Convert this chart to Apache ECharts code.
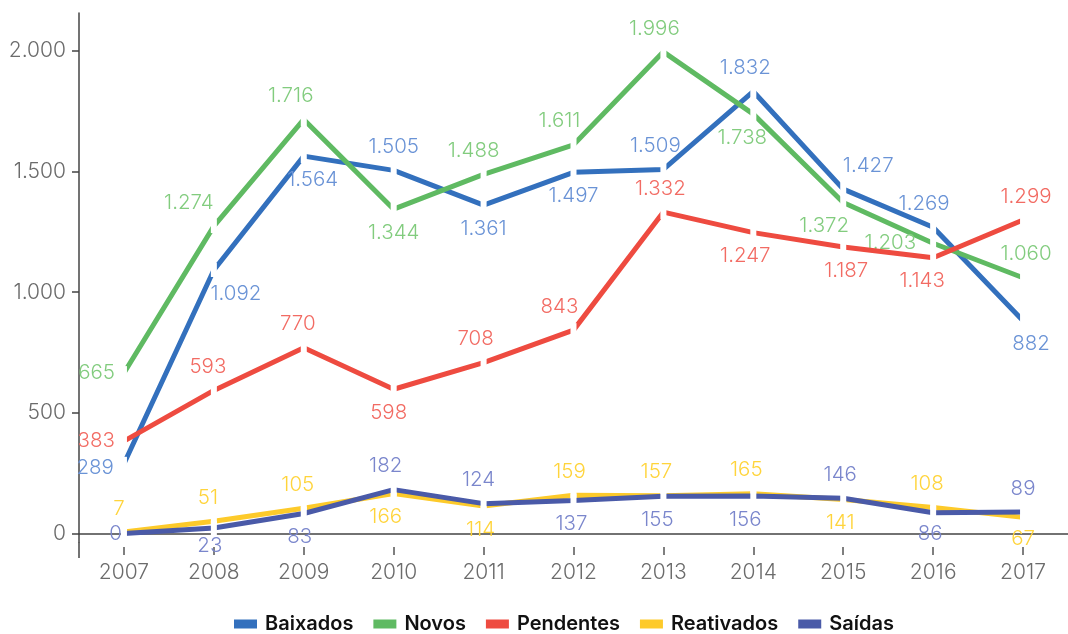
<!DOCTYPE html>
<html>
<head>
<meta charset="utf-8">
<script src="https://cdn.jsdelivr.net/npm/echarts@6/dist/echarts.min.js"></script>
<style>
html,body{margin:0;padding:0;background:#fff;}
#chart{width:1068px;height:634px;}
</style>
</head>
<body>
<div id="chart"></div>
<script>
// ---- data ----
const categories = ['2007','2008','2009','2010','2011','2012','2013','2014','2015','2016','2017'];
const seriesNames = ['Baixados','Novos','Pendentes','Reativados','Saídas'];
const baixados   = [289, 1092, 1564, 1505, 1361, 1497, 1509, 1832, 1427, 1269, 882];
const novos      = [665, 1274, 1716, 1344, 1488, 1611, 1996, 1738, 1372, 1203, 1060];
const pendentes  = [383, 593, 770, 598, 708, 843, 1332, 1247, 1187, 1143, 1299];
const reativados = [7, 51, 105, 166, 114, 159, 157, 165, 141, 108, 67];
const saidas     = [0, 23, 83, 182, 124, 137, 155, 156, 146, 86, 89];
const yTicks = [0, 500, 1000, 1500, 2000];

// ---- styles ----
const lineColors  = ['#3370bd', '#5fba62', '#ee4b40', '#fdca2a', '#4a5aa8'];
const labelColors = ['#6a93d6', '#82cc7e', '#f26b63', '#ffd43b', '#7a86cc'];
// label placement per point: [position, dx, dy]
const labelPlaces = [
  [['l',-1,4],['b',22,0],['b',9,0],['t',0,0],['b',0,0],['b',0,0],['t',-8,0],['t',-8,0],['t',25,0],['t',-9,0],['b',8,0]],
  [['l',0,0],['t',-25,0],['t',-13,0],['b',0,0],['t',-10,0],['t',-14,0],['t',-9,0],['b',-11,0],['b',-19,0],['l',-8,0],['t',3,0]],
  [['l',0,0],['t',-6,0],['t',-6,0],['b',-5,0],['t',-8,0],['t',-14,0],['t',-3,0],['b',-8,0],['b',3,0],['b',-11,0],['t',3,0]],
  [['t',-5,0],['t',-6,0],['t',-6,0],['b',-8,0],['b',-3,0],['t',-4,0],['t',-7,0],['t',-7,0],['b',-3,0],['t',-6,0],['b',0,-2]],
  [['l',7,0],['b',-4,-6],['b',-4,0],['t',-8,0],['t',-5,0],['b',-2,0],['b',-6,0],['b',-8,0],['t',-3,0],['b',-3,-2],['t',0,0]]
];
const posMap = {t:'top', b:'bottom', l:'left', r:'right'};
const FONT = 'Inter, "Open Sans", sans-serif';

function fmt(v){ return String(v).replace(/\B(?=(\d{3})+(?!\d))/g, '.'); }

const allData = [baixados, novos, pendentes, reativados, saidas];

const series = allData.map((arr, si) => ({
  name: seriesNames[si],
  type: 'line',
  data: arr.map((v, i) => {
    const p = labelPlaces[si][i];
    return {
      value: v,
      label: { position: posMap[p[0]], offset: [p[1], p[2]] }
    };
  }),
  lineStyle: { color: lineColors[si], width: 5 },
  itemStyle: { color: '#ffffff', borderWidth: 0 },
  symbol: 'rect',
  symbolSize: [6, 14],
  showAllSymbol: true,
  animation: false,
  label: {
    show: true,
    distance: 6,
    color: labelColors[si],
    fontSize: 20.5,
    fontFamily: FONT,
    fontWeight: 300,
    formatter: p => fmt(p.value)
  },
  emphasis: { disabled: true },
  z: 2 + si
}));

const chart = echarts.init(document.getElementById('chart'), null, {renderer: 'canvas'});
chart.setOption({
  animation: false,
  backgroundColor: '#fff',
  grid: { left: 79, width: 992, top: 13, bottom: 92, containLabel: false },
  legend: {
    top: 614,
    left: 234,
    padding: 0,
    data: seriesNames.map((n, i) => ({ name: n, itemStyle: { color: lineColors[i] } })),
    icon: 'rect',
    itemWidth: 23,
    itemHeight: 9,
    itemGap: 20,
    textStyle: { fontSize: 20, fontWeight: 600, color: '#111', fontFamily: FONT, padding: [0,0,0,3] }
  },
  xAxis: [
    {
      type: 'category',
      data: categories,
      boundaryGap: true,
      axisLine: { show: true, lineStyle: { color: '#444', width: 1.5 } },
      axisTick: { show: false },
      axisLabel: { show: false }
    },
    {
      type: 'category',
      data: categories,
      boundaryGap: true,
      position: 'bottom',
      offset: 5,
      axisLine: { show: false },
      axisTick: { show: true, alignWithLabel: true, length: 8, lineStyle: { color: '#555', width: 1.5 } },
      axisLabel: { show: true, margin: 15, fontSize: 21, color: '#6b6b6b', fontFamily: FONT, fontWeight: 300 }
    }
  ],
  yAxis: {
    type: 'value',
    min: -35,
    max: 2157,
    offset: 0,
    splitLine: { show: false },
    axisLine: { show: true, lineStyle: { color: '#444', width: 1.5 } },
    axisTick: { show: true, length: 7, customValues: yTicks, lineStyle: { color: '#444', width: 1.5 } },
    axisLabel: { show: true, customValues: yTicks, margin: 13, fontSize: 21, color: '#6b6b6b', fontFamily: FONT, fontWeight: 300, formatter: v => fmt(v) }
  },
  series: series
});

// extend the y-axis line below the x-axis (as in the reference)
const bottomPt = chart.convertToPixel({yAxisIndex: 0}, -35);
chart.setOption({
  graphic: [{
    type: 'line',
    shape: { x1: 79, y1: bottomPt, x2: 79, y2: bottomPt + 16 },
    style: { stroke: '#444', lineWidth: 1.5 },
    silent: true
  }]
});
</script>
</body>
</html>
